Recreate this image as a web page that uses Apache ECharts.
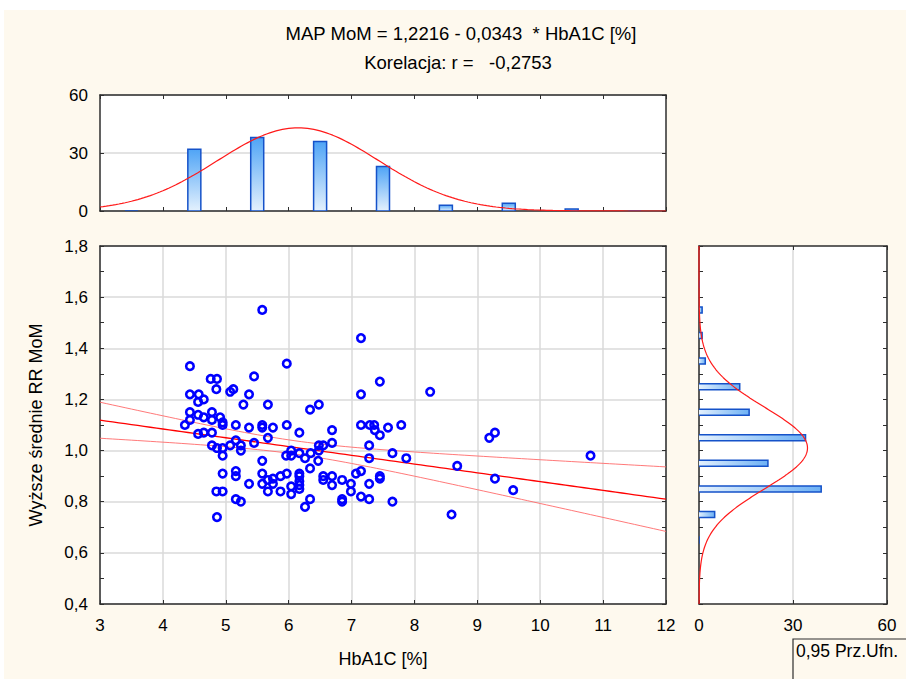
<!DOCTYPE html>
<html>
<head>
<meta charset="utf-8">
<script src="https://cdn.jsdelivr.net/npm/echarts/dist/echarts.min.js"></script>
<style>
  html, body { margin: 0; padding: 0; background: #ffffff; }
  #chart { width: 906px; height: 679px; }
</style>
</head>
<body>
<div id="chart"></div>
<script>
// ---- observations: HbA1C [%] and upper mean RR (MoM) ----
const hba1c = [
  5.58, 7.15, 4.43, 5.97, 4.76, 4.86, 5.45, 7.45, 4.85, 5.07,
  5.12, 5.37, 4.43, 4.57, 7.15, 4.56, 4.65, 5.28, 5.67, 6.34,
  6.48, 4.43, 4.78, 4.43, 4.56, 4.65, 4.78, 4.91, 4.95, 4.95,
  4.35, 4.78, 4.65, 4.56, 5.16, 5.37, 5.58, 5.58, 5.75, 5.97,
  6.17, 5.67, 5.16, 5.45, 4.78, 4.86, 4.95, 5.07, 5.24, 5.24,
  4.95, 5.96, 6.04, 6.04, 6.17, 6.26, 6.35, 6.48, 6.55, 6.48,
  6.69, 6.69, 6.47, 5.58, 7.15, 7.29, 7.36, 7.37, 7.45, 7.58,
  7.79, 7.28, 7.65, 7.28, 7.87, 4.95, 5.16, 5.16, 5.37, 5.58,
  5.58, 5.67, 5.75, 5.75, 5.87, 5.97, 5.67, 5.87, 6.04, 6.04,
  6.17, 6.17, 6.17, 6.17, 6.17, 6.34, 6.55, 6.55, 6.69, 6.69,
  6.85, 6.85, 6.85, 6.99, 6.99, 7.07, 7.15, 7.28, 7.45, 7.45,
  7.15, 7.28, 7.65, 4.85, 4.95, 5.16, 5.24, 4.86, 6.26, 6.34,
  8.25, 8.68, 8.59, 9.19, 9.28, 9.28, 9.57, 10.80
];
const rrMoM = [
  1.55, 1.44, 1.33, 1.34, 1.28, 1.28, 1.29, 1.27, 1.24, 1.23,
  1.24, 1.22, 1.22, 1.22, 1.22, 1.19, 1.20, 1.18, 1.18, 1.16,
  1.18, 1.15, 1.15, 1.12, 1.14, 1.13, 1.12, 1.13, 1.11, 1.10,
  1.10, 1.07, 1.07, 1.065, 1.10, 1.09, 1.10, 1.09, 1.09, 1.10,
  1.07, 1.05, 1.04, 1.03, 1.02, 1.01, 1.01, 1.02, 1.02, 1.00,
  0.98, 0.98, 1.00, 0.98, 0.99, 0.97, 0.99, 1.02, 1.02, 1.00,
  1.03, 1.08, 0.96, 0.96, 1.10, 1.10, 1.10, 1.08, 1.06, 1.09,
  1.10, 1.02, 0.99, 0.97, 0.97, 0.91, 0.92, 0.90, 0.87, 0.91,
  0.87, 0.885, 0.89, 0.87, 0.90, 0.91, 0.84, 0.84, 0.86, 0.83,
  0.91, 0.90, 0.88, 0.865, 0.85, 0.93, 0.90, 0.885, 0.90, 0.865,
  0.885, 0.81, 0.80, 0.87, 0.84, 0.91, 0.92, 0.87, 0.90, 0.89,
  0.82, 0.81, 0.80, 0.84, 0.84, 0.81, 0.80, 0.74, 0.78, 0.81,
  1.23, 0.94, 0.75, 1.05, 1.07, 0.89, 0.845, 0.98
];

// ---- marginal histograms ----
const hbBinCenters = [3.5, 4.5, 5.5, 6.5, 7.5, 8.5, 9.5, 10.5, 11.5];
const hbCounts     = [0, 32, 38, 36, 23, 3, 4, 1, 0];
const rrBinCenters = [0.65, 0.75, 0.85, 0.95, 1.05, 1.15, 1.25, 1.35, 1.45, 1.55, 1.65];
const rrCounts     = [0, 5, 39, 22, 34, 16, 13, 2, 1, 1, 0];

// ---- fitted normal curves for the histograms ----
const nObs = 138;
const hbMean = 6.15, hbSd = 1.28, hbBinWidth = 1;
const rrMean = 1.01, rrSd = 0.159, rrBinWidth = 0.1;

// ---- regression statistics ----
const intercept = 1.2216;
const slope = -0.0343;
const corrR = -0.2753;
const tCrit = 1.979;

// ---- tick labels ----
const hbTicks = [3, 4, 5, 6, 7, 8, 9, 10, 11, 12];
const rrTicks = [0.4, 0.6, 0.8, 1.0, 1.2, 1.4, 1.6, 1.8];
const countTicks = [0, 30, 60];

const comma = (v, d) => v.toFixed(d).replace('.', ',');
const FONT = 'Liberation Sans, Arial, sans-serif';
const AX = '#2e2e2e';
const GRIDC = '#dadada';

// regression line and 95% confidence band from the observations
const n = hba1c.length;
const xm = hba1c.reduce((a, b) => a + b, 0) / n;
const sxx = hba1c.reduce((a, x) => a + (x - xm) * (x - xm), 0);
const sse = hba1c.reduce((a, x, i) => {
  const r = rrMoM[i] - (intercept + slope * x);
  return a + r * r;
}, 0);
const se = Math.sqrt(sse / (n - 2));
const xMin = hbTicks[0], xMax = hbTicks[hbTicks.length - 1];
const fitLine = [], bandUp = [], bandLo = [];
for (let k = 0; k <= 90; k++) {
  const x = xMin + (xMax - xMin) * k / 90;
  const y = intercept + slope * x;
  const h = tCrit * se * Math.sqrt(1 / n + (x - xm) * (x - xm) / sxx);
  fitLine.push([x, y]);
  bandUp.push([x, y + h]);
  bandLo.push([x, y - h]);
}

function normal(x, m, s) {
  return Math.exp(-0.5 * ((x - m) / s) ** 2) / (s * Math.sqrt(2 * Math.PI));
}
const hbCurve = [];
for (let k = 0; k <= 180; k++) {
  const x = xMin + (xMax - xMin) * k / 180;
  hbCurve.push([x, nObs * hbBinWidth * normal(x, hbMean, hbSd)]);
}
const rrCurve = [];
for (let k = 0; k <= 280; k++) {
  const y = rrTicks[0] + (rrTicks[rrTicks.length - 1] - rrTicks[0]) * k / 280;
  rrCurve.push([nObs * rrBinWidth * normal(y, rrMean, rrSd), y]);
}

// shared axis styling
function frameAxis(o) {
  return Object.assign({
    type: 'value',
    axisLine: { show: true, onZero: false, lineStyle: { color: AX, width: 1.5 } },
    axisTick: { show: true, inside: true, length: 4, lineStyle: { color: AX, width: 1 } },
    axisLabel: { show: false },
    splitLine: { show: false }
  }, o);
}
const labelStyle = { show: true, color: '#000', fontFamily: FONT, fontSize: 17 };
const nameStyle = { color: '#000', fontFamily: FONT, fontSize: 18 };

const chart = echarts.init(document.getElementById('chart'), null, { renderer: 'svg' });

const option = {
  animation: false,
  backgroundColor: '#ffffff',
  grid: [
    { left: 100, top: 95, width: 566, height: 116, show: true, backgroundColor: '#fff', borderWidth: 0 },
    { left: 100, top: 246, width: 566, height: 358, show: true, backgroundColor: '#fff', borderWidth: 0 },
    { left: 699, top: 246, width: 188, height: 358, show: true, backgroundColor: '#fff', borderWidth: 0 }
  ],
  xAxis: [
    // top histogram
    frameAxis({ gridIndex: 0, min: xMin, max: xMax, interval: 1 }),
    frameAxis({ gridIndex: 0, position: 'top', min: xMin, max: xMax, interval: 1 }),
    // scatter
    frameAxis({
      gridIndex: 1, min: xMin, max: xMax, interval: 1,
      axisLabel: Object.assign({ margin: 13, formatter: v => String(v) }, labelStyle),
      splitLine: { show: true, lineStyle: { color: GRIDC, width: 1.5 } },
      name: 'HbA1C [%]', nameLocation: 'middle', nameGap: 46, nameTextStyle: nameStyle
    }),
    frameAxis({ gridIndex: 1, position: 'top', min: xMin, max: xMax, interval: 1, axisTick: { show: false } }),
    // right histogram
    frameAxis({
      gridIndex: 2, min: countTicks[0], max: countTicks[2], interval: 30,
      axisLabel: Object.assign({ margin: 13, formatter: v => String(v) }, labelStyle),
      splitLine: { show: true, lineStyle: { color: GRIDC, width: 1.5 } }
    }),
    frameAxis({ gridIndex: 2, position: 'top', min: countTicks[0], max: countTicks[2], interval: 30 })
  ],
  yAxis: [
    // top histogram
    frameAxis({
      gridIndex: 0, min: countTicks[0], max: countTicks[2], interval: 30,
      axisLabel: Object.assign({ margin: 12, formatter: v => String(v) }, labelStyle),
      splitLine: { show: true, lineStyle: { color: GRIDC, width: 1.5 } }
    }),
    frameAxis({ gridIndex: 0, position: 'right', min: countTicks[0], max: countTicks[2], interval: 30 }),
    // scatter
    frameAxis({
      gridIndex: 1, min: rrTicks[0], max: rrTicks[rrTicks.length - 1], interval: 0.2,
      axisLabel: Object.assign({ margin: 12, formatter: v => comma(v, 1) }, labelStyle),
      minorTick: { show: true, splitNumber: 2, length: 4, lineStyle: { color: AX } },
      splitLine: { show: true, lineStyle: { color: GRIDC, width: 1.5 } },
      name: 'Wyższe średnie RR MoM', nameLocation: 'middle', nameGap: 55, nameRotate: 90,
      nameTextStyle: nameStyle
    }),
    frameAxis({
      gridIndex: 1, position: 'right', min: rrTicks[0], max: rrTicks[rrTicks.length - 1], interval: 0.2,
      minorTick: { show: true, splitNumber: 2, length: 4, lineStyle: { color: AX } }
    }),
    // right histogram
    frameAxis({
      gridIndex: 2, min: rrTicks[0], max: rrTicks[rrTicks.length - 1], interval: 0.2,
      minorTick: { show: true, splitNumber: 2, length: 4, lineStyle: { color: AX } }
    }),
    frameAxis({
      gridIndex: 2, position: 'right', min: rrTicks[0], max: rrTicks[rrTicks.length - 1], interval: 0.2,
      minorTick: { show: true, splitNumber: 2, length: 4, lineStyle: { color: AX } }
    })
  ],
  graphic: {
    elements: [
      { type: 'rect', z: -100, silent: true, shape: { x: 4, y: 10, width: 902, height: 669 },
        style: { fill: '#fef9ee' } },
      { type: 'text', x: 461, y: 33, silent: true,
        style: { text: 'MAP MoM = ' + comma(intercept, 4) + ' - ' + comma(-slope, 4) + '  * HbA1C [%]',
                 align: 'center', verticalAlign: 'middle', fill: '#000', font: '18.5px ' + FONT } },
      { type: 'text', x: 458, y: 62, silent: true,
        style: { text: 'Korelacja: r =   ' + comma(corrR, 4),
                 align: 'center', verticalAlign: 'middle', fill: '#000', font: '18.5px ' + FONT } },
      { type: 'rect', silent: true, shape: { x: 793, y: 639, width: 130, height: 60 },
        style: { fill: 'none', stroke: AX, lineWidth: 1.2 } },
      { type: 'text', x: 796, y: 651, silent: true,
        style: { text: '0,95 Prz.Ufn.', align: 'left', verticalAlign: 'middle', fill: '#000', font: '17.5px ' + FONT } }
    ]
  },
  series: [
    {
      type: 'custom', xAxisIndex: 0, yAxisIndex: 0, clip: true,
      encode: { x: 0, y: 1 },
      data: hbBinCenters.map((c, i) => [c, hbCounts[i]]),
      renderItem: function (params, api) {
        const c = api.value(0), v = api.value(1);
        const top = api.coord([c, v]);
        const base = api.coord([c, 0]);
        const w = 13;
        return {
          type: 'rect',
          shape: { x: top[0] - w / 2, y: top[1], width: w, height: base[1] - top[1] },
          style: {
            fill: new echarts.graphic.LinearGradient(0, 0, 0, 1, [
              { offset: 0, color: '#4fa4f6' }, { offset: 1, color: '#e4f1fd' }
            ]),
            stroke: '#1552c9', lineWidth: 1.5
          }
        };
      }
    },
    {
      type: 'line', xAxisIndex: 0, yAxisIndex: 0, data: hbCurve, showSymbol: false, symbol: 'none',
      lineStyle: { color: '#ff1a1a', width: 1.2 }, clip: true, z: 3
    },
    {
      type: 'line', xAxisIndex: 2, yAxisIndex: 2, data: bandUp, symbol: 'none',
      lineStyle: { color: '#ff6a6a', width: 0.9 }, clip: true
    },
    {
      type: 'line', xAxisIndex: 2, yAxisIndex: 2, data: bandLo, symbol: 'none',
      lineStyle: { color: '#ff6a6a', width: 0.9 }, clip: true
    },
    {
      type: 'line', xAxisIndex: 2, yAxisIndex: 2, data: fitLine, symbol: 'none',
      lineStyle: { color: '#ff0000', width: 1.3 }, clip: true
    },
    {
      type: 'scatter', xAxisIndex: 2, yAxisIndex: 2, z: 4,
      data: hba1c.map((x, i) => [x, rrMoM[i]]),
      symbol: 'circle', symbolSize: 7.5,
      itemStyle: { color: 'rgba(0,0,0,0)', borderColor: '#0000ff', borderWidth: 2.6, opacity: 1 }
    },
    {
      type: 'custom', xAxisIndex: 4, yAxisIndex: 4, clip: true,
      encode: { x: 0, y: 1 },
      data: rrBinCenters.map((c, i) => [rrCounts[i], c]),
      renderItem: function (params, api) {
        const v = api.value(0), c = api.value(1);
        const start = api.coord([0, c]);
        const end = api.coord([v, c]);
        const h = 6;
        return {
          type: 'rect',
          shape: { x: start[0] - 1, y: start[1] - h / 2, width: end[0] - start[0] + 1, height: h },
          style: {
            fill: new echarts.graphic.LinearGradient(0, 0, 1, 0, [
              { offset: 0, color: '#e6f2fd' }, { offset: 1, color: '#6db1f5' }
            ]),
            stroke: '#1552c9', lineWidth: 1.5
          }
        };
      }
    },
    {
      type: 'line', xAxisIndex: 4, yAxisIndex: 4, data: rrCurve, symbol: 'none',
      lineStyle: { color: '#ff1a1a', width: 1.2 }, clip: true, z: 3
    }
  ]
};

chart.setOption(option);
</script>
</body>
</html>
